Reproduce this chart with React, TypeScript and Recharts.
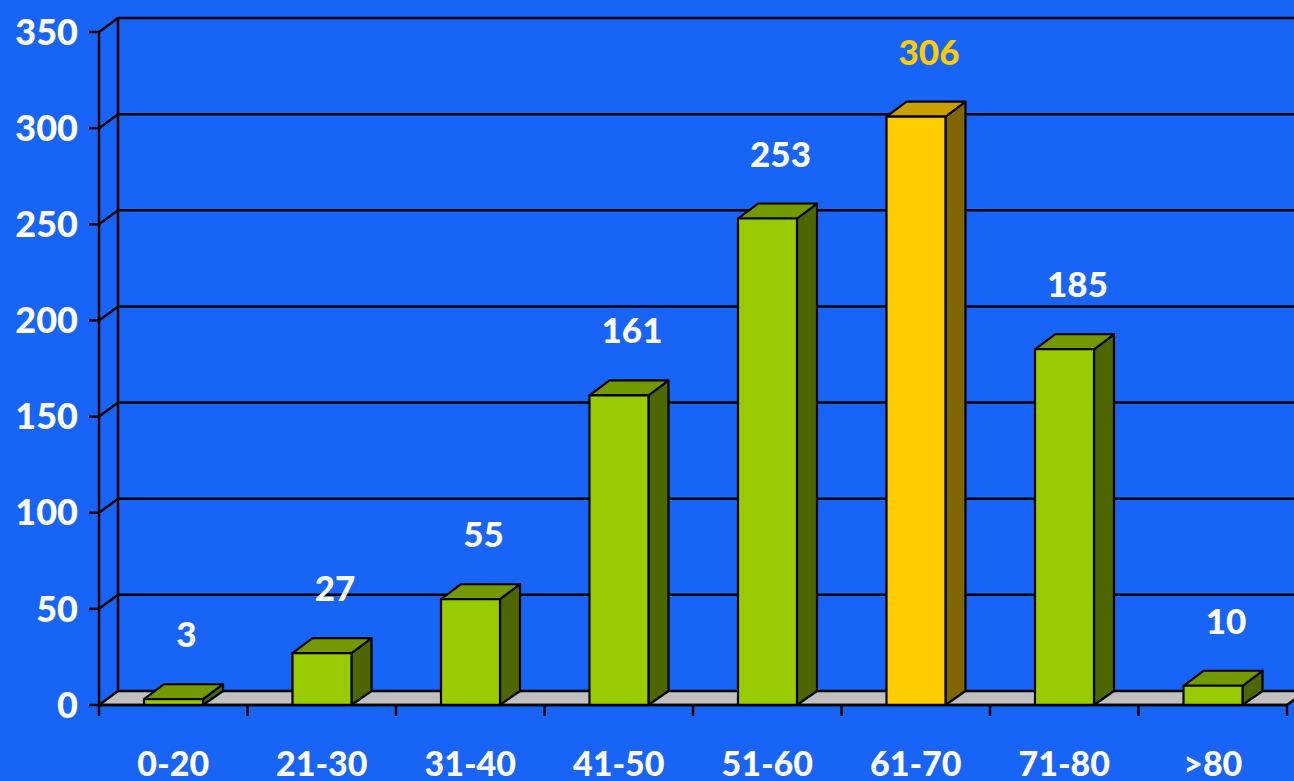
import React from "react";
import { BarChart, Bar, XAxis, YAxis, CartesianGrid, LabelList } from "recharts";

const categories = ["0-20", "21-30", "31-40", "41-50", "51-60", "61-70", "71-80", ">80"];
const values = [3, 27, 55, 161, 253, 306, 185, 10];
const highlightCategory = "61-70";
const yTicks = [0, 50, 100, 150, 200, 250, 300, 350];

const data = categories.map((c, i) => ({ name: c, value: values[i], hl: c === highlightCategory }));

const W = 1294;
const H = 781;
const M_TOP = 32;
const M_RIGHT = 7;
const Y_W = 99;
const X_H = 76;
const PLOT_BOTTOM = H - X_H;
const PLOT_W = W - M_RIGHT - Y_W;
const BAND = PLOT_W / categories.length;

const WALL_DX = 19;
const WALL_DY = 14;
const BAR_DX = 20;
const BAR_DY_TOP = 15;
const BAR_DY_BOT = 14;

const BG = "#1764F7";
const FONT = "Lato, 'Open Sans', sans-serif";
const WEIGHT = 900;
const SW = 2.5;

const GREEN = { front: "#99CC00", top: "#729A00", side: "#4D6600" };
const YELLOW = { front: "#FFCC00", top: "#C9A000", side: "#806600" };

const GridLine = (p: any) => {
  const { x1, y1, x2 } = p;
  const isFloor = Math.abs(y1 - PLOT_BOTTOM) < 1;
  if (isFloor) {
    return (
      <g key={p.key ?? `g-${y1}`}>
        <polygon
          points={`${x1},${y1} ${x1 + WALL_DX},${y1 - WALL_DY} ${x2 + WALL_DX},${y1 - WALL_DY} ${x2},${y1}`}
          fill="#C0C0C0"
          stroke="#000"
          strokeWidth={SW}
          strokeLinejoin="round"
        />
        <line x1={x1 + WALL_DX} y1={y1 - WALL_DY} x2={x1 + WALL_DX} y2={M_TOP - WALL_DY} stroke="#000" strokeWidth={SW} />
      </g>
    );
  }
  return (
    <g key={p.key ?? `g-${y1}`}>
      <line x1={x1} y1={y1} x2={x1 + WALL_DX} y2={y1 - WALL_DY} stroke="#000" strokeWidth={SW} />
      <line x1={x1 + WALL_DX} y1={y1 - WALL_DY} x2={x2 + WALL_DX} y2={y1 - WALL_DY} stroke="#000" strokeWidth={SW} />
    </g>
  );
};

const Bar3D = (p: any) => {
  const { x, y, width: w, height: h, payload } = p;
  if (w == null || h == null) return null;
  const c = payload && payload.hl ? YELLOW : GREEN;
  const common = { stroke: "#000", strokeWidth: 2.2, strokeLinejoin: "round" as const };
  return (
    <g>
      <polygon
        points={`${x + w},${y} ${x + w + BAR_DX},${y - BAR_DY_TOP} ${x + w + BAR_DX},${y + h - BAR_DY_BOT} ${x + w},${y + h}`}
        fill={c.side}
        {...common}
      />
      <polygon
        points={`${x},${y} ${x + BAR_DX},${y - BAR_DY_TOP} ${x + w + BAR_DX},${y - BAR_DY_TOP} ${x + w},${y}`}
        fill={c.top}
        {...common}
      />
      <rect x={x} y={y} width={w} height={h} fill={c.front} {...common} />
    </g>
  );
};

const XTick = (p: any) => {
  const { x, payload, index } = p;
  const last = index === categories.length - 1;
  const left = x - BAND / 2;
  const right = x + BAND / 2;
  return (
    <g>
      <line x1={left} y1={PLOT_BOTTOM} x2={left} y2={PLOT_BOTTOM + 11} stroke="#000" strokeWidth={SW} />
      {last && <line x1={right} y1={PLOT_BOTTOM} x2={right} y2={PLOT_BOTTOM + 11} stroke="#000" strokeWidth={SW} />}
      <text
        x={x}
        y={762}
        textAnchor="middle"
        dominantBaseline="central"
        fill="#fff"
        fontFamily={FONT}
        fontWeight={WEIGHT}
        fontSize={34}
      >
        {payload.value}
      </text>
    </g>
  );
};

const ValueLabel = (p: any) => {
  const { x, y, width, value, index } = p;
  const hl = categories[index] === highlightCategory;
  return (
    <text
      x={x + width / 2 + 13}
      y={y - 66}
      textAnchor="middle"
      dominantBaseline="central"
      fill={hl ? "#FFCC00" : "#fff"}
      fontFamily={FONT}
      fontWeight={WEIGHT}
      fontSize={35}
    >
      {value}
    </text>
  );
};

export default function App() {
  return (
    <div style={{ position: "absolute", left: 0, top: 0, width: W, height: H, background: BG, overflow: "hidden" }}>
      <BarChart width={W} height={H} data={data} margin={{ top: M_TOP, right: M_RIGHT, left: 0, bottom: 0 }}>
        <CartesianGrid vertical={false} horizontal={GridLine as any} />
        <XAxis
          dataKey="name"
          height={X_H}
          axisLine={{ stroke: "#000", strokeWidth: SW }}
          tickLine={false}
          tick={XTick as any}
          interval={0}
        />
        <YAxis
          width={Y_W}
          domain={[0, 350]}
          ticks={yTicks}
          interval={0}
          axisLine={{ stroke: "#000", strokeWidth: SW }}
          tickLine={{ stroke: "#000", strokeWidth: SW }}
          tickSize={10}
          tickMargin={11}
          tick={{ fill: "#fff", fontFamily: FONT, fontWeight: WEIGHT, fontSize: 36 }}
        />
        <Bar dataKey="value" barSize={59} shape={Bar3D as any} isAnimationActive={false}>
          <LabelList dataKey="value" content={ValueLabel as any} />
        </Bar>
      </BarChart>
    </div>
  );
}
